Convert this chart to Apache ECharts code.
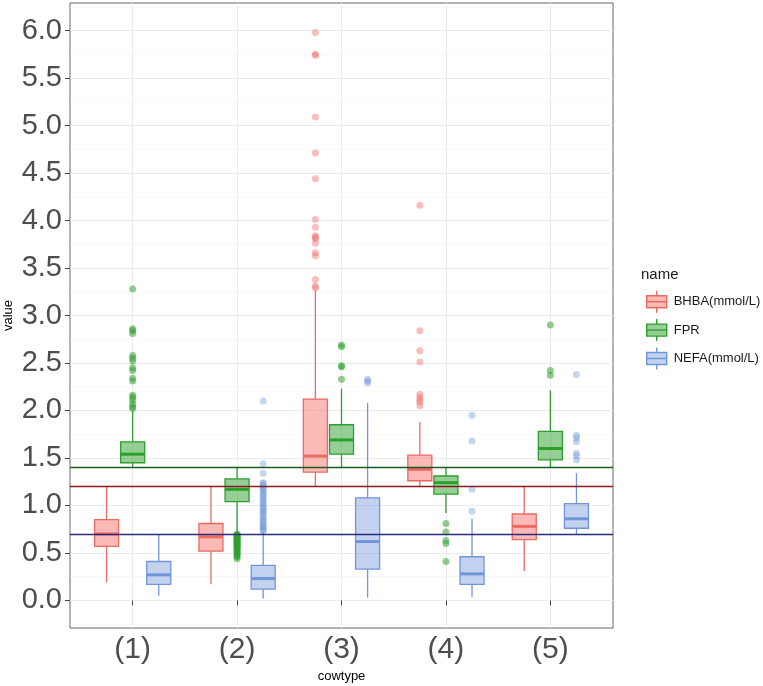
<!DOCTYPE html>
<html>
<head>
<meta charset="utf-8">
<script src="https://cdn.jsdelivr.net/npm/echarts@6/dist/echarts.min.js"></script>
<style>
	html, body { margin: 0; padding: 0; background: #fff; }
	#chart { width: 763px; height: 686px; }
</style>
</head>
<body>
<div id="chart"></div>
<script>
	var categories = ['(1)', '(2)', '(3)', '(4)', '(5)'];
	var seriesNames = ['BHBA(mmol/L)', 'FPR', 'NEFA(mmol/L)'];

	// [min, Q1, median, Q3, max] for each cowtype
	var bhbaBox = [
		[0.19, 0.57, 0.70, 0.85, 1.20],
		[0.17, 0.52, 0.67, 0.81, 1.20],
		[1.20, 1.35, 1.52, 2.12, 3.27],
		[1.20, 1.26, 1.38, 1.53, 1.88],
		[0.31, 0.64, 0.78, 0.91, 1.20]
	];
	var fprBox = [
		[1.40, 1.45, 1.54, 1.67, 2.00],
		[0.70, 1.04, 1.17, 1.28, 1.40],
		[1.40, 1.54, 1.69, 1.85, 2.23],
		[0.92, 1.12, 1.24, 1.31, 1.40],
		[1.40, 1.48, 1.60, 1.78, 2.21]
	];
	var nefaBox = [
		[0.05, 0.17, 0.27, 0.41, 0.70],
		[0.02, 0.12, 0.23, 0.37, 0.72],
		[0.03, 0.33, 0.62, 1.08, 2.08],
		[0.04, 0.17, 0.28, 0.46, 0.86],
		[0.70, 0.76, 0.86, 1.02, 1.34]
	];

	// outliers for each cowtype
	var bhbaOut = [
		[],
		[],
		[5.98, 5.75, 5.74, 5.09, 4.71, 4.44, 4.01, 3.93, 3.84, 3.82, 3.81, 3.76, 3.66, 3.63, 3.38, 3.31, 3.29],
		[4.16, 2.84, 2.63, 2.51, 2.17, 2.14, 2.11, 2.09, 2.05],
		[]
	];
	var fprOut = [
		[3.28, 2.86, 2.84, 2.81, 2.58, 2.55, 2.52, 2.45, 2.42, 2.34, 2.31, 2.16, 2.14, 2.11, 2.07, 2.04, 2.02],
		[0.70, 0.69, 0.68, 0.68, 0.67, 0.66, 0.65, 0.64, 0.64, 0.63, 0.62, 0.61, 0.60, 0.59, 0.58, 0.57,
		 0.56, 0.55, 0.54, 0.52, 0.51, 0.50, 0.49, 0.47, 0.46, 0.44],
		[2.69, 2.67, 2.47, 2.46, 2.33],
		[0.81, 0.72, 0.63, 0.60, 0.41],
		[2.90, 2.42, 2.37]
	];
	var nefaOut = [
		[],
		[2.10, 1.44, 1.34, 1.24, 1.23, 1.21, 1.19, 1.17, 1.16, 1.13, 1.11, 1.10, 1.07, 1.05, 1.03, 1.01,
		 0.99, 0.97, 0.95, 0.93, 0.92, 0.89, 0.87, 0.85, 0.83, 0.81, 0.79, 0.78, 0.76, 0.74, 0.73],
		[2.33, 2.31, 2.29],
		[1.95, 1.68, 1.17, 0.94],
		[2.38, 1.74, 1.71, 1.67, 1.55, 1.52, 1.48]
	];

	var refLines = [1.4, 1.2, 0.7];
	var yTicks = [0, 0.5, 1, 1.5, 2, 2.5, 3, 3.5, 4, 4.5, 5, 5.5, 6];
	var yMinorTicks = [-0.25, 0.25, 0.75, 1.25, 1.75, 2.25, 2.75, 3.25, 3.75, 4.25, 4.75, 5.25, 5.75, 6.25];
	var xTicks = [1, 2, 3, 4, 5];

	var boxes = [bhbaBox, fprBox, nefaBox];
	var outs = [bhbaOut, fprOut, nefaOut];
	var lineColors = ['#EC6A63', '#2CA02C', '#7096D9'];
	var fillColors = ['rgba(248,118,109,0.5)', 'rgba(44,160,44,0.5)', 'rgba(112,150,217,0.42)'];
	var dotColors = ['rgba(240,110,104,0.55)', 'rgba(44,160,44,0.65)', 'rgba(112,150,217,0.5)'];
	var refColors = ['#1d5c1d', '#8B1A1A', '#2B2B7D'];
	var dodge = [-0.25, 0, 0.25];
	var boxW = 0.23;

	function makeRender(stroke, fill) {
		return function (params, api) {
			var x = api.value(0);
			var lo = api.coord([x, api.value(1)]);
			var q1 = api.coord([x, api.value(2)]);
			var md = api.coord([x, api.value(3)]);
			var q3 = api.coord([x, api.value(4)]);
			var hi = api.coord([x, api.value(5)]);
			var w = api.size([boxW, 0])[0];
			return {
				type: 'group',
				children: [
					{ type: 'line', shape: { x1: lo[0], y1: lo[1], x2: q1[0], y2: q1[1] }, style: { stroke: stroke, lineWidth: 1.3 } },
					{ type: 'line', shape: { x1: q3[0], y1: q3[1], x2: hi[0], y2: hi[1] }, style: { stroke: stroke, lineWidth: 1.3 } },
					{ type: 'rect', shape: { x: q3[0] - w / 2, y: q3[1], width: w, height: q1[1] - q3[1] }, style: { fill: fill, stroke: stroke, lineWidth: 1.3 } },
					{ type: 'line', shape: { x1: md[0] - w / 2, y1: md[1], x2: md[0] + w / 2, y2: md[1] }, style: { stroke: stroke, lineWidth: 3 } }
				]
			};
		};
	}

	var series = [];
	var legendData = [];
	for (var s = 0; s < seriesNames.length; s++) {
		var boxData = [];
		var dotData = [];
		for (var c = 0; c < categories.length; c++) {
			var xPos = c + 1 + dodge[s];
			boxData.push([xPos].concat(boxes[s][c]));
			for (var k = 0; k < outs[s][c].length; k++) {
				dotData.push([xPos, outs[s][c][k]]);
			}
		}
		series.push({
			name: seriesNames[s],
			type: 'custom',
			renderItem: makeRender(lineColors[s], fillColors[s]),
			dimensions: ['x', 'min', 'q1', 'median', 'q3', 'max'],
			encode: { x: 0, y: [1, 2, 3, 4, 5] },
			itemStyle: { color: fillColors[s], borderColor: lineColors[s] },
			data: boxData,
			z: 2
		});
		series.push({
			name: seriesNames[s],
			type: 'scatter',
			symbolSize: 7,
			itemStyle: { color: dotColors[s] },
			data: dotData,
			z: 3
		});
		legendData.push({
			name: seriesNames[s],
			itemStyle: { color: fillColors[s], borderColor: lineColors[s], borderWidth: 1.4 }
		});
	}

	var refData = [];
	for (var r = 0; r < refLines.length; r++) {
		refData.push({ yAxis: refLines[r], lineStyle: { color: refColors[r], width: 1.4, type: 'solid' } });
	}
	series.push({
		name: 'ref',
		type: 'line',
		data: [],
		z: 4,
		markLine: {
			silent: true,
			symbol: 'none',
			label: { show: false },
			animation: false,
			data: refData
		}
	});

	var chart = echarts.init(document.getElementById('chart'));
	var option = {
		animation: false,
		textStyle: { fontFamily: 'Liberation Sans, Arial, sans-serif' },
		title: {
			text: 'name',
			left: 636,
			top: 262,
			textStyle: { fontSize: 15, fontWeight: 'normal', color: '#1a1a1a' }
		},
		legend: {
			orient: 'vertical',
			left: 641,
			top: 285,
			itemWidth: 20,
			itemHeight: 22,
			itemGap: 5,
			icon: 'path://M0,5L20,5L20,17L0,17ZM0,11L20,11M10,0L10,5M10,17L10,22',
			textStyle: { fontSize: 13, color: '#1a1a1a', padding: [0, 0, 0, 2] },
			data: legendData
		},
		grid: {
			show: true,
			left: 70,
			top: 3,
			right: 150,
			bottom: 58,
			outerBoundsMode: 'none',
			containLabel: false,
			borderColor: '#666',
			borderWidth: 1,
			backgroundColor: '#fff'
		},
		xAxis: {
			type: 'value',
			min: 0.4,
			max: 5.6,
			name: 'cowtype',
			nameLocation: 'middle',
			nameGap: 42,
			nameMoveOverlap: false,
			nameTextStyle: { fontSize: 13, color: '#000' },
			axisLine: { show: false },
			axisTick: { show: true, length: 5, lineStyle: { color: '#444' }, customValues: xTicks },
			axisLabel: {
				fontSize: 30,
				color: '#4d4d4d',
				margin: 7,
				customValues: xTicks,
				formatter: function (v) { return categories[Math.round(v) - 1]; }
			},
			splitLine: { show: true, lineStyle: { color: '#ebebeb', width: 1 } }
		},
		yAxis: [{
			type: 'value',
			min: -0.29,
			max: 6.29,
			name: 'value',
			nameLocation: 'middle',
			nameGap: 55,
			nameRotate: 90,
			nameMoveOverlap: false,
			nameTextStyle: { fontSize: 13, color: '#000' },
			axisLine: { show: false },
			axisTick: { show: true, length: 5, lineStyle: { color: '#444' }, customValues: yTicks },
			axisLabel: {
				fontSize: 29,
				color: '#4d4d4d',
				margin: 8,
				customValues: yTicks,
				formatter: function (v) { return v.toFixed(1); }
			},
			splitLine: { show: true, lineStyle: { color: '#ebebeb', width: 1 } }
		}, {
			type: 'value',
			min: -0.29,
			max: 6.29,
			position: 'left',
			axisLine: { show: false },
			axisTick: { show: false, customValues: yMinorTicks },
			axisLabel: { show: false, customValues: yMinorTicks },
			splitLine: { show: true, lineStyle: { color: '#f3f3f3', width: 0.6 } }
		}],
		series: series
	};
	chart.setOption(option);
</script>
</body>
</html>
